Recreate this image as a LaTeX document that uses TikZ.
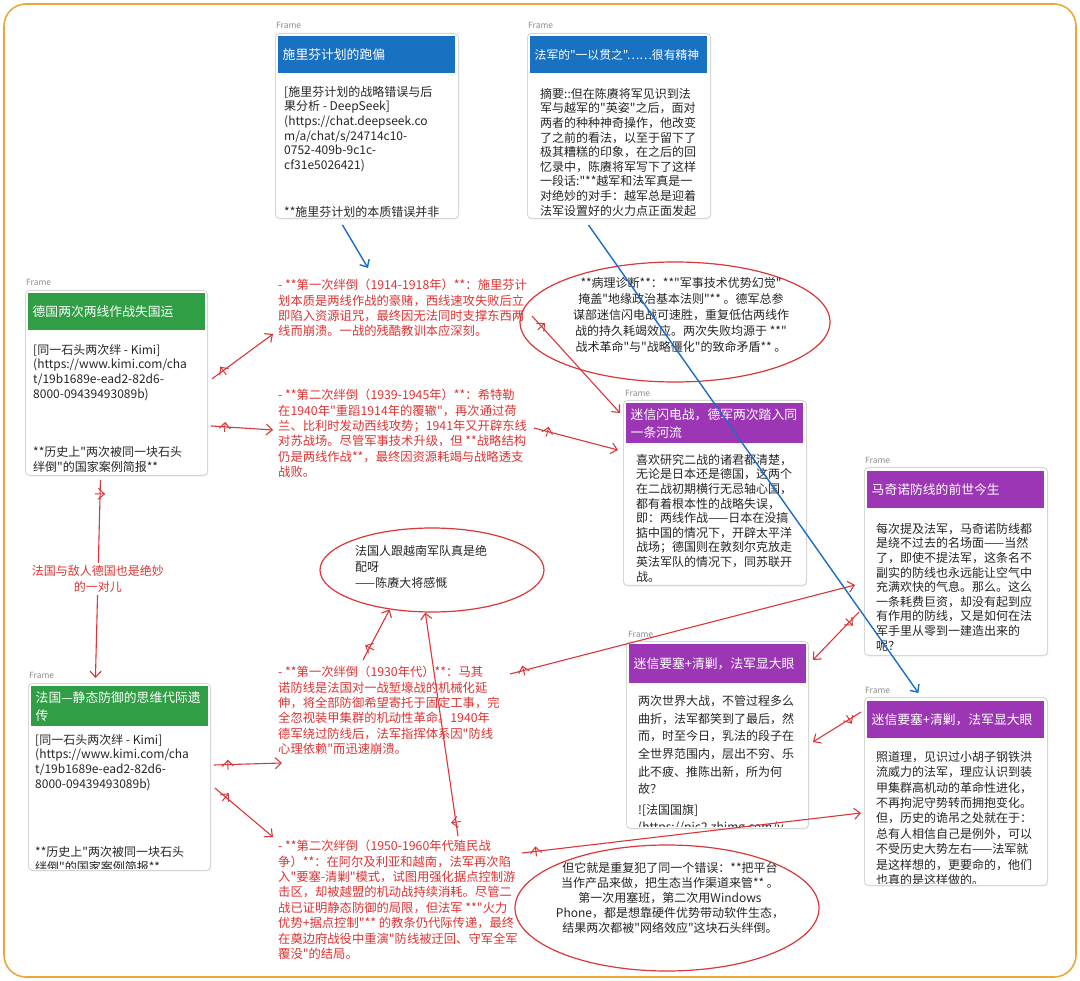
\documentclass[tikz,border=0pt]{standalone}
\usepackage{fontspec}
\setmainfont{Noto Sans CJK SC}
\newfontfamily\cjk{Noto Sans CJK SC}
\usetikzlibrary{arrows.meta,shapes.geometric,calc,decorations.markings,shadows}
\definecolor{hblue}{HTML}{1971C2}
\definecolor{hgreen}{HTML}{2F9E44}
\definecolor{hpurple}{HTML}{9C36B5}
\definecolor{rtext}{HTML}{DC3434}
\definecolor{rline}{HTML}{D9373A}
\definecolor{bline}{HTML}{1C6EC2}
\definecolor{outerc}{HTML}{EBA83A}
\definecolor{framegray}{HTML}{D6D6D6}
\newcommand\bodyfnt{\cjk\fontsize{12}{14.6}\selectfont}
\newcommand\redfnt{\cjk\fontsize{12.3}{15.4}\selectfont}
\tikzset{
  frame/.style={draw=framegray, fill=white, rounded corners=4pt, line width=0.9pt, anchor=north west, inner sep=0pt,
    drop shadow={opacity=0.10, shadow xshift=0.8pt, shadow yshift=-1.2pt}},
  hdr/.style={anchor=north west, inner xsep=4.5pt, inner ysep=0pt, text=white, text width=168pt,
    font=\cjk\fontsize{12.8}{18}\selectfont, align=left, minimum height=37pt},
  flabel/.style={anchor=west, inner sep=0pt, text=black!45, font=\cjk\fontsize{8.5}{10}\selectfont},
  bodytxt/.style={anchor=north west, inner sep=0pt, align=left, font=\bodyfnt, text=black!85},
  redtxt/.style={anchor=north west, inner sep=0pt, align=left, font=\redfnt, text=rtext},
  elltxt/.style={inner sep=0pt, font=\cjk\fontsize{12}{16}\selectfont, text=black!85},
  ell/.style={ellipse, draw=rline, line width=1.2pt, inner sep=0pt},
  crossmark/.style={postaction={decorate, decoration={markings,
      mark=at position 14pt with {\draw[line width=1pt] (0pt,-5pt) -- (0pt,5pt);}}}},
  rarrow/.style={draw=rline, line width=1.1pt, -{Straight Barb[length=6pt,width=11pt]}, crossmark},
  barrow/.style={draw=bline, line width=1.4pt, -{Straight Barb[length=6pt,width=11pt]}}
}
\begin{document}
\begin{tikzpicture}[x=1pt,y=-1pt]
\useasboundingbox (0,0) rectangle (1080,981);
\fill[white] (0,0) rectangle (1080,981);
\draw[draw=outerc, line width=1.6pt, rounded corners=22pt] (4,4) rectangle (1076,977);

% ---------- frames ----------
\node[flabel] (l1) at (276,25) {Frame};
\node[frame, minimum width=183pt, minimum height=185pt] (b1) at (275,33) {};
\node[hdr, fill=hblue] (h1) at ($(b1.north west)+(3,3)$) {施里芬计划的跑偏};
\begin{scope}
\clip (b1.north west) rectangle ([shift={(0,-2)}]b1.south east);
\node[bodytxt] (t1) at (284,86) {[施里芬计划的战略错误与后\\果分析 - DeepSeek]\\(https://chat.deepseek.co\\m/a/chat/s/24714c10-\\0752-409b-9c1c-\\cf31e5026421)\\[33pt]**施里芬计划的本质错误并非};
\end{scope}

\node[flabel] (l2) at (528,25) {Frame};
\node[frame, minimum width=183pt, minimum height=185pt] (b2) at (527,33) {};
\node[hdr, fill=hblue, font=\cjk\fontsize{11.8}{18}\selectfont] (h2) at ($(b2.north west)+(3,3)$) {法军的"一以贯之"……很有精神};
\begin{scope}
\clip (b2.north west) rectangle ([shift={(0,-2)}]b2.south east);
\node[bodytxt] (t2) at (540,88) {摘要::但在陈赓将军见识到法\\军与越军的"英姿"之后，面对\\两者的种种神奇操作，他改变\\了之前的看法，以至于留下了\\极其糟糕的印象，在之后的回\\忆录中，陈赓将军写下了这样\\一段话:"**越军和法军真是一\\对绝妙的对手：越军总是迎着\\法军设置好的火力点正面发起};
\end{scope}

\node[flabel] (l3) at (26,282) {Frame};
\node[frame, minimum width=182pt, minimum height=185pt] (b3) at (25,290) {};
\node[hdr, fill=hgreen] (h3) at ($(b3.north west)+(3,3)$) {德国两次两线作战失国运};
\node[bodytxt] (t3) at (33,344) {[同一石头两次绊 - Kimi]\\(https://www.kimi.com/cha\\t/19b1689e-ead2-82d6-\\8000-09439493089b)\\[44pt]**历史上"两次被同一块石头\\绊倒"的国家案例简报**};

\node[flabel] (l4) at (29,675) {Frame};
\node[frame, minimum width=182pt, minimum height=187pt] (b4) at (28,683) {};
\node[hdr, fill=hgreen, minimum height=40pt] (h4) at ($(b4.north west)+(3,3)$) {法国—静态防御的思维代际遗\\传};
\begin{scope}
\clip (b4.north west) rectangle ([shift={(0,-2)}]b4.south east);
\node[bodytxt] (t4) at (35,734) {[同一石头两次绊 - Kimi]\\(https://www.kimi.com/cha\\t/19b1689e-ead2-82d6-\\8000-09439493089b)\\[54pt]**历史上"两次被同一块石头\\绊倒"的国家案例简报**};
\end{scope}

\node[flabel] (l5) at (625,393) {Frame};
\node[frame, minimum width=183pt, minimum height=185pt] (b5) at (623,400) {};
\node[hdr, fill=hpurple, minimum height=40pt] (h5) at ($(b5.north west)+(3,3)$) {迷信闪电战，德军两次踏入同\\一条河流};
\node[bodytxt] (t5) at (636,454) {喜欢研究二战的诸君都清楚，\\无论是日本还是德国，这两个\\在二战初期横行无忌轴心国，\\都有着根本性的战略失误，\\即：两线作战——日本在没搞\\掂中国的情况下，开辟太平洋\\战场；德国则在敦刻尔克放走\\英法军队的情况下，同苏联开\\战。};

\node[flabel] (l6) at (865,460) {Frame};
\node[frame, minimum width=183pt, minimum height=188pt] (b6) at (864,467) {};
\node[hdr, fill=hpurple] (h6) at ($(b6.north west)+(3,4)$) {马奇诺防线的前世今生};
\node[bodytxt] (t6) at (876,523) {每次提及法军，马奇诺防线都\\是绕不过去的名场面——当然\\了，即使不提法军，这条名不\\副实的防线也永远能让空气中\\充满欢快的气息。那么。这么\\一条耗费巨资，却没有起到应\\有作用的防线，又是如何在法\\军手里从零到一建造出来的\\呢？};

\node[flabel] (l7) at (628,634) {Frame};
\node[frame, minimum width=182pt, minimum height=187pt] (b7) at (626,641) {};
\node[hdr, fill=hpurple, minimum height=39pt] (h7) at ($(b7.north west)+(3,3)$) {迷信要塞+清剿，法军显大眼};
\begin{scope}
\clip (b7.north west) rectangle ([shift={(0,-2)}]b7.south east);
\node[bodytxt, font=\cjk\fontsize{12}{17.7}\selectfont] (t7) at (638,695) {两次世界大战，不管过程多么\\曲折，法军都笑到了最后，然\\而，时至今日，乳法的段子在\\全世界范围内，层出不穷、乐\\此不疲、推陈出新，所为何\\故？\\[2.5pt]![法国国旗]\\(https://pic2.zhimg.com/v};
\end{scope}

\node[flabel] (l8) at (865,690) {Frame};
\node[frame, minimum width=183pt, minimum height=188pt] (b8) at (864,697) {};
\node[hdr, fill=hpurple] (h8) at ($(b8.north west)+(3,4)$) {迷信要塞+清剿，法军显大眼};
\begin{scope}
\clip (b8.north west) rectangle ([shift={(0,-2)}]b8.south east);
\node[bodytxt, font=\cjk\fontsize{12}{15.4}\selectfont] (t8) at (876,751) {照道理，见识过小胡子钢铁洪\\流威力的法军，理应认识到装\\甲集群高机动的革命性进化，\\不再拘泥守势转而拥抱变化。\\但，历史的诡吊之处就在于：\\总有人相信自己是例外，可以\\不受历史大势左右——法军就\\是这样想的，更要命的，他们\\也真的是这样做的。};
\end{scope}

% ---------- red free texts ----------
\node[redtxt] (tA) at (278,279) {- **第一次绊倒（1914-1918年）**：施里芬计\\划本质是两线作战的豪赌，西线速攻失败后立\\即陷入资源诅咒，最终因无法同时支撑东西两\\线而崩溃。一战的残酷教训本应深刻。};
\node[redtxt] (tB) at (278,389) {- **第二次绊倒（1939-1945年）**：希特勒\\在1940年"重蹈1914年的覆辙"，再次通过荷\\兰、比利时发动西线攻势；1941年又开辟东线\\对苏战场。尽管军事技术升级，但 **战略结构\\仍是两线作战**，最终因资源耗竭与战略透支\\战败。};
\node[redtxt] (tC) at (278,666) {- **第一次绊倒（1930年代）**：马其\\诺防线是法国对一战堑壕战的机械化延\\伸，将全部防御希望寄托于固定工事，完\\全忽视装甲集群的机动性革命。1940年\\德军绕过防线后，法军指挥体系因"防线\\心理依赖"而迅速崩溃。};
\node[redtxt] (tD) at (278,840) {- **第二次绊倒（1950-1960年代殖民战\\争）**：在阿尔及利亚和越南，法军再次陷\\入"要塞-清剿"模式，试图用强化据点控制游\\击区，却被越盟的机动战持续消耗。尽管二\\战已证明静态防御的局限，但法军 **"火力\\优势+据点控制"** 的教条仍代际传递，最终\\在奠边府战役中重演"防线被迂回、守军全军\\覆没"的结局。};

% ---------- ellipses ----------
\node[ell, minimum width=310pt, minimum height=120pt] (e1) at (675,322) {};
\node[elltxt, align=center] (et1) at (681,315) {**病理诊断**：**"军事技术优势幻觉"\\掩盖"地缘政治基本法则"** 。德军总参\\谋部迷信闪电战可速胜，重复低估两线作\\战的持久耗竭效应。两次失败均源于 **"\\战术革命"与"战略僵化"的致命矛盾** 。};
\node[ell, minimum width=224pt, minimum height=84pt] (e2) at (432,570) {};
\node[elltxt, align=left, anchor=north west] (et2) at (355,545) {法国人跟越南军队真是绝\\配呀\\——陈赓大将感慨};
\node[ell, minimum width=304pt, minimum height=126pt] (e3) at (667,908) {};
\node[elltxt, align=center, font=\cjk\fontsize{12}{15}\selectfont] (et3) at (670,898) {但它就是重复犯了同一个错误：**把平台\\当作产品来做，把生态当作渠道来管** 。\\第一次用塞班，第二次用Windows\\Phone，都是想靠硬件优势带动软件生态，\\结果两次都被"网络效应"这块石头绊倒。};

% ---------- connector end points ----------
\coordinate (tAin) at (273,334);
\coordinate (tBin) at (273,430);
\coordinate (tAout) at (532,316);
\coordinate (tBout) at (534,428);
\coordinate (tCin) at (282,763);
\coordinate (tDin) at (273,837);
\coordinate (tCout) at (510,674);
\coordinate (tDout) at (522,853);
\coordinate (tCtop) at (363,660);
\coordinate (tDtop) at (458,836);
\coordinate (tAtop) at (368,268);

% ---------- red arrows ----------
\draw[rarrow] ([shift={(4,-4)}]b3.east) -- (tAin);
\draw[rarrow] ([shift={(3,43)}]b3.east) -- (tBin);
\draw[rarrow] (tAout) -- ([shift={(-3,13)}]b5.north west);
\draw[rarrow] (tBout) -- ([shift={(-5,50)}]b5.north west);
\draw[rarrow] (tCout) -- ([shift={(-9,118)}]b6.north west);
\draw[rarrow] (tDout) -- ([shift={(-3,116)}]b8.north west);
\draw[rarrow] ([shift={(-5,145)}]b6.north west) -- ([shift={(4,19)}]b7.north east);
\draw[rarrow] ([shift={(-3,15)}]b8.north west) -- ([shift={(4,101)}]b7.north east);
\draw[rarrow] ([shift={(3,82)}]b4.north east) -- (tCin);
\draw[rarrow] ([shift={(4,105)}]b4.north east) -- (tDin);
\draw[rarrow] (tCtop) -- (e2.223);
\draw[rarrow] (tDtop) -- (e2.261);
\draw[rarrow] ([shift={(-16,4)}]b3.south) -- node[fill=white, inner sep=2pt, align=center, text=rtext, font=\cjk\fontsize{12}{16}\selectfont] (lab) {法国与敌人德国也是绝妙\\的一对儿} ([shift={(-24,-5)}]b4.north);

% ---------- blue arrows ----------
\draw[barrow] ([shift={(-24.5,6)}]b1.south) -- (tAtop);
\draw[barrow] ([shift={(-30.5,6)}]b2.south) -- ([shift={(-37.5,-4)}]b8.north);
\end{tikzpicture}
\end{document}
